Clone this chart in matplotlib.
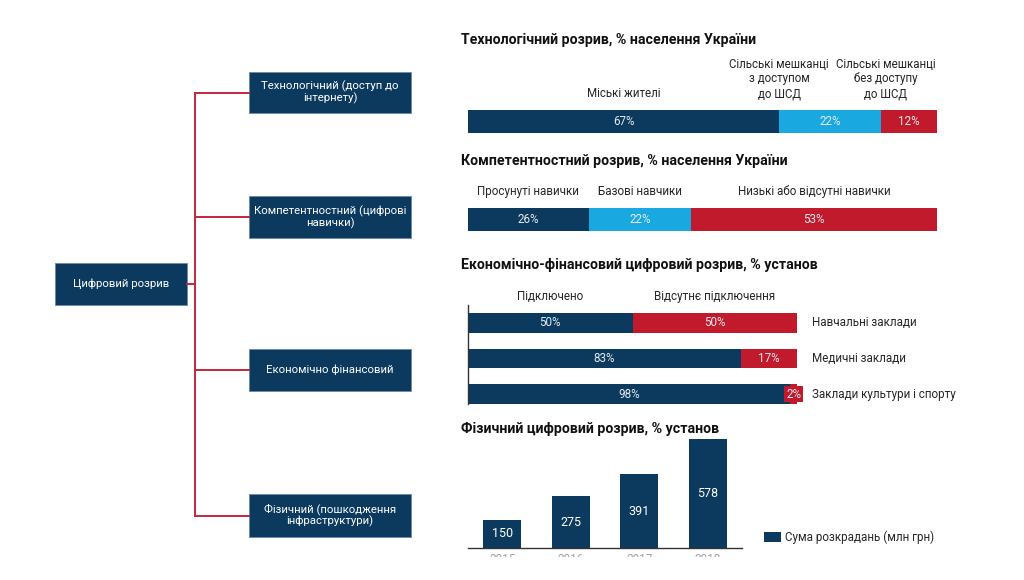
import matplotlib
matplotlib.use('Agg')
import matplotlib.pyplot as plt
from matplotlib.patches import Rectangle
from matplotlib.transforms import Bbox, TransformedBbox, blended_transform_factory

plt.rcParams['font.family'] = ['Roboto', 'DejaVu Sans']

# ---------------- data ----------------
tree_root = 'Цифровий розрив'
tree_children = ['Технологічний (доступ до\nінтернету)',
                 'Компетентностний (цифрові\nнавички)',
                 'Економічно фінансовий',
                 'Фізичний (пошкодження\nінфраструктури)']

tech_title = 'Технологічний розрив, % населення України'
tech_labels = ['Міські жителі', 'Сільські мешканці\nз доступом\nдо ШСД',
               'Сільські мешканці\nбез доступу\nдо ШСД']
tech_values = [67, 22, 12]

comp_title = 'Компетентностний розрив, % населення України'
comp_labels = ['Просунуті навички', 'Базові навчики', 'Низькі або відсутні навички']
comp_values = [26, 22, 53]

econ_title = 'Економічно-фінансовий цифровий розрив, % установ'
econ_series = ['Підключено', 'Відсутнє підключення']
econ_categories = ['Навчальні заклади', 'Медичні заклади', 'Заклади культури і спорту']
econ_connected = [50, 83, 98]
econ_missing = [50, 17, 2]

phys_title = 'Фізичний цифровий розрив, % установ'
phys_years = ['2015', '2016', '2017', '2018']
phys_values = [150, 275, 391, 578]
phys_legend = 'Сума розкрадань (млн грн)'

# ---------------- style ----------------
NAVY = '#0b3a5e'
BLUE = '#1aa8e0'
RED = '#c01a2c'
LINE_RED = '#c3283a'
TXT = '#262626'
PCT = '#e4ebf1'

W, H = 1024, 580
fig = plt.figure(figsize=(W / 100, H / 100), dpi=100)
fig.patch.set_facecolor('white')


def add_ax(x0, y0, x1, y1):
    return fig.add_axes([x0 / W, 1 - y1 / H, (x1 - x0) / W, (y1 - y0) / H])


def fy(y):
    return 1 - y / H


# ---------------- tree ----------------
tax = add_ax(0, 0, W, H)
tax.set_xlim(0, W)
tax.set_ylim(H, 0)
tax.axis('off')

root_box = (55, 263, 187, 305)
child_x = (249, 411)
child_y = [(72, 113), (196, 238), (349, 391), (494, 537)]
trunk_x = 195

tax.add_patch(Rectangle((root_box[0], root_box[1]), root_box[2] - root_box[0],
                        root_box[3] - root_box[1], facecolor=NAVY,
                        edgecolor='#6d8aa3', lw=0.6))
tax.text((root_box[0] + root_box[2]) / 2, (root_box[1] + root_box[3]) / 2,
         tree_root, color='white', fontsize=8.2, ha='center', va='center')
rc = (root_box[1] + root_box[3]) / 2
tax.plot([root_box[2], trunk_x], [rc, rc], color=LINE_RED, lw=1.4)
centers = [(a + b) / 2 for a, b in child_y]
tax.plot([trunk_x, trunk_x], [centers[0], centers[-1]], color=LINE_RED, lw=1.4)
for (a, b), label in zip(child_y, tree_children):
    c = (a + b) / 2
    tax.plot([trunk_x, child_x[0]], [c, c], color=LINE_RED, lw=1.4)
    tax.add_patch(Rectangle((child_x[0], a), child_x[1] - child_x[0], b - a,
                            facecolor=NAVY, edgecolor='#6d8aa3', lw=0.6))
    tax.text((child_x[0] + child_x[1]) / 2, c, label, color='white', fontsize=8.2,
             ha='center', va='center', linespacing=1.1)

# ---------------- titles ----------------
for title, yb in [(tech_title, 44), (comp_title, 165), (econ_title, 269), (phys_title, 433)]:
    fig.text(461 / W, fy(yb), title, fontsize=10.2, fontweight='bold', color='#111111',
             ha='left', va='baseline')


# ---------------- stacked single bars ----------------
def single_stack(ax, values, colors):
    total = sum(values)
    left = 0
    lefts = []
    for v, c in zip(values, colors):
        ax.barh(0, v, left=left, height=1, color=c)
        ax.text(left + v / 2, 0, f'{v}%', color=PCT, fontsize=8.4,
                ha='center', va='center')
        lefts.append(left)
        left += v
    ax.set_xlim(0, total)
    ax.set_ylim(-0.5, 0.5)
    ax.axis('off')
    return lefts


ax1 = add_ax(468, 110, 937, 133)
lefts1 = single_stack(ax1, tech_values, [NAVY, BLUE, RED])
label_x1 = [lefts1[0] + tech_values[0] / 2, lefts1[1], lefts1[2] + 1]
for x, lab in zip(label_x1, tech_labels):
    ax1.annotate(lab, xy=(x, 1), xycoords=('data', 'axes fraction'),
                 xytext=(0, 7), textcoords='offset points', ha='center', va='bottom',
                 fontsize=8.3, color=TXT, linespacing=1.18)

ax2 = add_ax(468, 208, 937, 231)
lefts2 = single_stack(ax2, comp_values, [NAVY, BLUE, RED])
for l, v, lab in zip(lefts2, comp_values, comp_labels):
    ax2.annotate(lab, xy=(l + v / 2, 1), xycoords=('data', 'axes fraction'),
                 xytext=(0, 7), textcoords='offset points', ha='center', va='bottom',
                 fontsize=8.4, color=TXT)

# ---------------- econ ----------------
ax3 = add_ax(468, 305, 797, 412)
ypos = list(range(len(econ_categories)))
bh = 0.56
ax3.barh(ypos, econ_connected, height=bh, color=NAVY)
ax3.barh(ypos, econ_missing, left=econ_connected, height=bh, color=RED)
ax3.set_xlim(0, 100)
ax3.set_ylim(len(ypos) - 0.5, -0.5)
for s in ['top', 'right', 'bottom']:
    ax3.spines[s].set_visible(False)
ax3.spines['left'].set_color('#333333')
ax3.spines['left'].set_linewidth(1)
ax3.spines['left'].set_bounds(-0.5, ypos[-1] + bh / 2)
ax3.set_xticks([])
ax3.set_yticks([])
ax3.patch.set_alpha(0)
for y, c, m, cat in zip(ypos, econ_connected, econ_missing, econ_categories):
    ax3.text(c / 2, y, f'{c}%', color=PCT, fontsize=8.4, ha='center', va='center')
    if m >= 5:
        ax3.text(c + m / 2, y, f'{m}%', color=PCT, fontsize=8.4, ha='center', va='center')
    else:
        ax3.text(c + m / 2, y, f'{m}%', color=PCT, fontsize=8.4, ha='center', va='center',
                 bbox=dict(boxstyle='square,pad=0.15', facecolor=RED, edgecolor='none'))
    ax3.annotate(cat, xy=(100, y), xycoords='data', xytext=(11, 0),
                 textcoords='offset points', ha='left', va='center',
                 fontsize=8.4, color=TXT)
hdr_x = [econ_connected[0] / 2, econ_connected[0] + econ_missing[0] / 2]
for x, lab in zip(hdr_x, econ_series):
    ax3.annotate(lab, xy=(x, -bh / 2), xycoords='data', xytext=(0, 7),
                 textcoords='offset points', ha='center', va='bottom',
                 fontsize=8.4, color=TXT)

# ---------------- physical ----------------
ax4 = add_ax(468, 435, 742, 548)
xs = list(range(len(phys_values)))
bars = ax4.bar(xs, phys_values, width=0.55, color=NAVY, label=phys_legend)
ax4.set_xlim(-0.5, len(xs) - 0.5)
ax4.set_ylim(0, 600)
for s in ['top', 'right', 'left']:
    ax4.spines[s].set_visible(False)
ax4.spines['bottom'].set_color('#333333')
ax4.spines['bottom'].set_linewidth(1)
ax4.set_xticks([])
ax4.set_yticks([])
ax4.patch.set_alpha(0)
for x, v in zip(xs, phys_values):
    ax4.text(x, v / 2, f'{v}', color='white', fontsize=9, ha='center', va='center')

# year labels, cut off by the bottom crop as in the reference
clip = TransformedBbox(Bbox([[0, fy(556.5)], [1, 1]]), fig.transFigure)
btr = blended_transform_factory(ax4.transData, fig.transFigure)
for x, yr in zip(xs, phys_years):
    t = fig.text(x, fy(553), yr, transform=btr, ha='center', va='top',
                 fontsize=8.5, color='#a0a0a0')
    t.set_clip_box(clip)
    t.set_clip_on(True)

fig.legend(handles=[bars], labels=[phys_legend], loc='center left',
           bbox_to_anchor=(764 / W, fy(537.5)), frameon=False, fontsize=8.4,
           handlelength=1.45, handleheight=0.95, handletextpad=0.35,
           borderpad=0, borderaxespad=0, labelcolor=TXT)

fig.savefig('out.png', dpi=100, facecolor='white')
